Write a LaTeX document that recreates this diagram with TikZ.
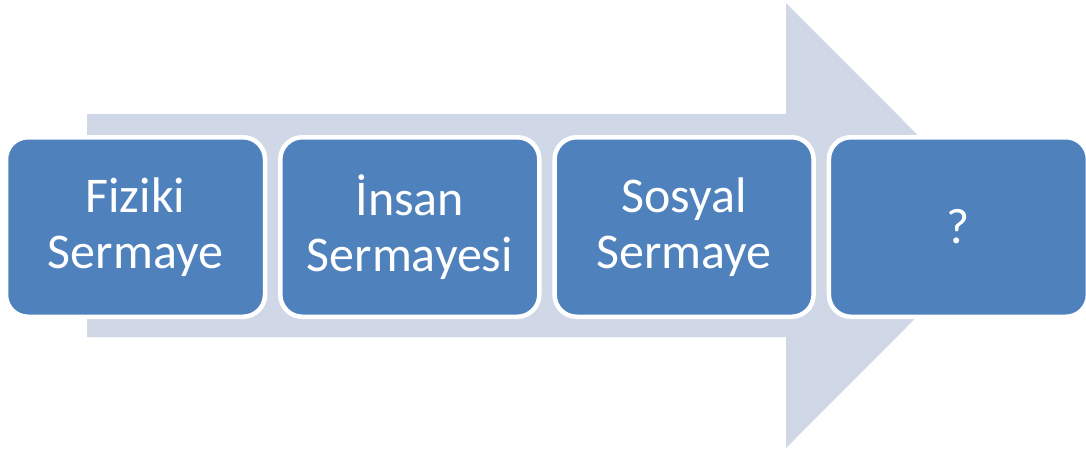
\documentclass[tikz,border=0pt]{standalone}
\usepackage{fontspec}
\setmainfont{Carlito}
\definecolor{boxblue}{HTML}{4F81BD}
\definecolor{arrowgray}{HTML}{D0D8E8}
\tikzset{
  stage/.style={rectangle, rounded corners=22pt, draw=white, line width=4.5pt,
    fill=boxblue, text=white, align=center, inner sep=0pt,
    minimum width=259pt, minimum height=179.5pt,
    font=\fontsize{50}{56}\selectfont},
  bigarrow/.style={fill=arrowgray, draw=none}
}
\begin{document}
\begin{tikzpicture}[x=1pt, y=-1pt]
  \useasboundingbox (0,0) rectangle (1086,450);
  % background block arrow
  \fill[bigarrow] (87,114) -- (786,114) -- (786,3) -- (1008,225.5)
    -- (786,448) -- (786,337) -- (87,337) -- cycle;
  % stages
  \node[stage] (s1) at (135.5,227) {Fiziki\\Sermaye};
  \node[stage] (s2) at (409.8,227) {İnsan\\Sermayesi};
  \node[stage] (s3) at (684.1,227) {Sosyal\\Sermaye};
  \node[stage] (s4) at (958.4,227) {?};
\end{tikzpicture}
\end{document}
